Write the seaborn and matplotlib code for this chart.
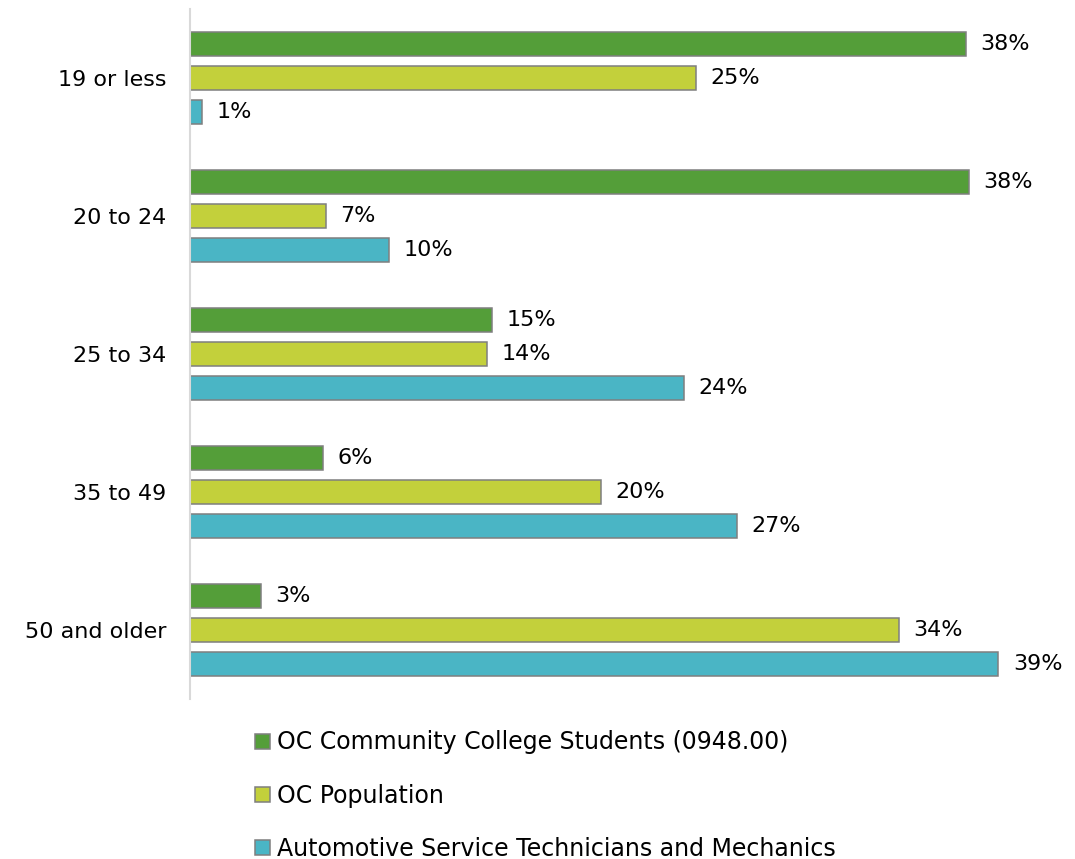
import matplotlib
matplotlib.use("Agg")
import matplotlib.pyplot as plt
import seaborn as sns
import pandas as pd

categories = ["19 or less", "20 to 24", "25 to 34", "35 to 49", "50 and older"]
series = [
    "OC Community College Students (0948.00)",
    "OC Population",
    "Automotive Service Technicians and Mechanics",
]
students = [37.66, 37.8, 14.67, 6.44, 3.43]
population = [24.55, 6.6, 14.43, 19.95, 34.42]
mechanics = [0.6, 9.66, 23.98, 26.55, 39.24]
colors = ["#549E39", "#C3D03B", "#4AB5C5"]

rows = []
for s, vals in zip(series, [students, population, mechanics]):
    for c, v in zip(categories, vals):
        rows.append({"Age": c, "Series": s, "Value": v})
df = pd.DataFrame(rows)

sns.set_style("white")
plt.rcParams["font.family"] = ["DejaVu Sans"]
plt.rcParams["text.color"] = "#000000"

fig = plt.figure(figsize=(10.75, 8.59), dpi=100)
ax = fig.add_axes([190 / 1075, (859 - 699) / 859, 850 / 1075, 690 / 859])

sns.barplot(
    data=df, y="Age", x="Value", hue="Series", order=categories,
    hue_order=series, palette=colors, saturation=1, orient="h",
    width=0.74, gap=0.27, edgecolor="#7F7F7F", linewidth=1.1,
    ax=ax, legend=True,
)

for cont in ax.containers:
    ax.bar_label(cont, labels=[f"{w:.0f}%" for w in cont.datavalues],
                 padding=10.5, fontsize=16, color="#000000")

ax.set_xlim(0, 850 / 20.6)
ax.set_ylim(4.5, -0.5)
ax.set_xlabel("")
ax.set_ylabel("")
ax.set_xticks([])
ax.tick_params(axis="y", length=0, pad=17, labelsize=16, labelcolor="#000000")
for side in ["top", "right", "bottom"]:
    ax.spines[side].set_visible(False)
ax.spines["left"].set_color("#D9D9D9")
ax.spines["left"].set_linewidth(1.5)

handles, labels = ax.get_legend_handles_labels()
ax.get_legend().remove()
leg = fig.legend(handles, labels, loc="upper left",
                 bbox_to_anchor=(246 / 1075, 1 - 721 / 859), frameon=False,
                 fontsize=17, handlelength=0.6, handleheight=0.6,
                 handletextpad=0.3, labelspacing=1.24, borderaxespad=0)
for t in leg.get_texts():
    t.set_color("#000000")

fig.savefig("out.png", dpi=100)
